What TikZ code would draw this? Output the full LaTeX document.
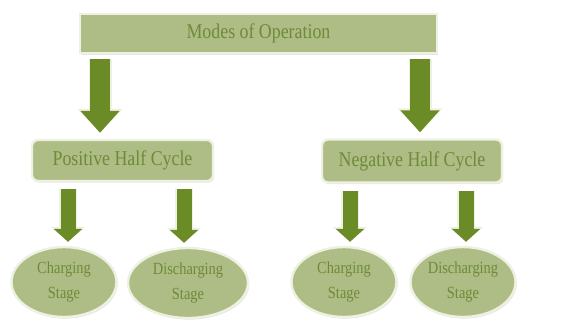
\documentclass[tikz,border=0pt]{standalone}
\usepackage{fontspec}
\setmainfont[FakeStretch=0.85]{Liberation Serif}
\usetikzlibrary{arrows.meta,shadows,shapes.geometric}
\definecolor{boxfill}{HTML}{AEBD85}
\definecolor{boxtext}{HTML}{6F8A38}
\definecolor{arrowgreen}{HTML}{6B8B26}
\definecolor{glow}{HTML}{EEF1E2}
\tikzset{
  box/.style={shape=rectangle,fill=boxfill,draw=glow,line width=1.2pt,text=boxtext,inner sep=0pt,
    font=\fontsize{10.5}{12}\selectfont,drop shadow={opacity=0.2,shadow xshift=0.6pt,shadow yshift=-0.8pt}},
  stage/.style={shape=ellipse,fill=boxfill,draw=glow,line width=1.2pt,text=boxtext,inner sep=0pt,align=center,
    minimum height=35pt,font=\fontsize{8.5}{12.5}\selectfont,drop shadow={opacity=0.2,shadow xshift=0.6pt,shadow yshift=-0.8pt}},
  bigarrow/.style={draw=arrowgreen,line width=10pt,-{Triangle[width=19pt,length=11pt]},
    preaction={draw=glow,line width=11.5pt,-{Triangle[width=22pt,length=12pt]}}},
  smallarrow/.style={draw=arrowgreen,line width=7.5pt,-{Triangle[width=14pt,length=6.5pt]},
    preaction={draw=glow,line width=9pt,-{Triangle[width=17pt,length=7.5pt]}}}
}

\begin{document}
\begin{tikzpicture}[x=0.5pt,y=-0.5pt]
    \useasboundingbox (0,0) rectangle (566,328);
    \node[box,minimum width=178.5pt,minimum height=19.5pt] (A) at (258.5,33.5) {Modes of Operation};
    \node[box,rounded corners=3pt,minimum width=90.5pt,minimum height=20.5pt] (B) at (122.5,160.5) {Positive Half Cycle};
    \node[box,rounded corners=3pt,minimum width=90pt,minimum height=21.5pt] (C) at (412,161) {Negative Half Cycle};
    \node[stage,minimum width=52.5pt] (D) at (64,282) {Charging\\Stage};
    \node[stage,minimum width=60pt] (E) at (188,283) {Discharging\\Stage};
    \node[stage,minimum width=52.5pt] (F) at (344,282) {Charging\\Stage};
    \node[stage,minimum width=52.5pt] (G) at (463,282) {Discharging\\Stage};

    \draw[bigarrow,shorten <=2.5pt,shorten >=3pt] ([xshift=-11.25pt]B.north |- A.south) -- ([xshift=-11.25pt]B.north);
    \draw[bigarrow,shorten <=2.5pt,shorten >=3pt] ([xshift=4pt]C.north |- A.south) -- ([xshift=4pt]C.north);
    \draw[smallarrow,shorten <=3.5pt,shorten >=2pt] ([xshift=2pt]D.north |- B.south) -- ([xshift=2pt]D.north);
    \draw[smallarrow,shorten <=3.5pt,shorten >=2pt] ([xshift=-2pt]E.north |- B.south) -- ([xshift=-2pt]E.north);
    \draw[smallarrow,shorten <=3.5pt,shorten >=2pt] ([xshift=3pt]F.north |- C.south) -- ([xshift=3pt]F.north);
    \draw[smallarrow,shorten <=3.5pt,shorten >=2pt] ([xshift=1.5pt]G.north |- C.south) -- ([xshift=1.5pt]G.north);
\end{tikzpicture}
\end{document}
